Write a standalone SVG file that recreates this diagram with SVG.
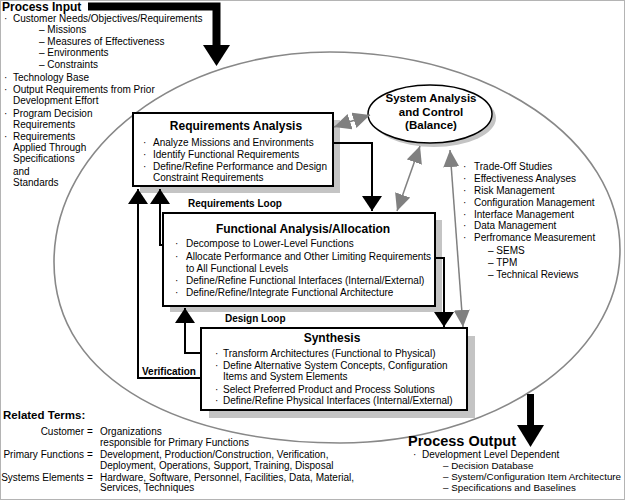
<svg xmlns="http://www.w3.org/2000/svg" width="625" height="500" viewBox="0 0 625 500">
<defs>
<style>
text{font-family:"Liberation Sans",Arial,Helvetica,sans-serif;fill:#000}
.t{font-size:10px}
.s{font-size:9.8px}
.b{font-weight:bold}
.ttl{font-size:12px;font-weight:bold;text-anchor:middle}
.lbl{font-size:10px;font-weight:bold}
.sac{font-size:11.5px;font-weight:bold;text-anchor:middle}
.box{fill:#fff;stroke:#000;stroke-width:2}
.shd{fill:#c4c4c4;stroke:none}
.blk{fill:none;stroke:#000;stroke-width:2}
.gry{fill:none;stroke:#808080;stroke-width:1.5}
</style>
<marker id="ah" viewBox="0 0 15 20" refX="15" refY="10" markerWidth="15" markerHeight="20" markerUnits="userSpaceOnUse" orient="auto"><path d="M0,0 L15,10 L0,20 Z" fill="#000"/></marker>
<marker id="ag" viewBox="0 0 17 16" refX="17" refY="8" markerWidth="17" markerHeight="16" markerUnits="userSpaceOnUse" orient="auto-start-reverse"><path d="M0,0 L17,8 L0,16 Z" fill="#808080"/></marker>
</defs>
<rect x="0.5" y="0.5" width="624" height="499" fill="#fff" stroke="#b4b4b4"/>
<path id="boundary" d="M54,262 C54,145 180,52 330,52 C490,52 620,140 620,250 C620,360 490,443 340,443 C190,443 54,385 54,262 Z" fill="none" stroke="#888" stroke-width="1.6"/>

<g id="process-input">
<text class="b" x="2" y="10.5" style="font-size:12px">Process Input</text>
<text class="t"><tspan x="4" y="22">·</tspan><tspan x="13" y="22">Customer Needs/Objectives/Requirements</tspan></text>
<text class="t" x="39" y="33">– Missions</text>
<text class="t" x="39" y="45">– Measures of Effectiveness</text>
<text class="t" x="39" y="56">– Environments</text>
<text class="t" x="39" y="68">– Constraints</text>
<text class="t"><tspan x="4" y="81">·</tspan><tspan x="13" y="81">Technology Base</tspan></text>
<text class="t"><tspan x="4" y="93">·</tspan><tspan x="13" y="93">Output Requirements from Prior</tspan></text>
<text class="t" x="13" y="104">Development Effort</text>
<text class="t"><tspan x="4" y="117">·</tspan><tspan x="13" y="117">Program Decision</tspan></text>
<text class="t" x="13" y="128">Requirements</text>
<text class="t"><tspan x="4" y="140">·</tspan><tspan x="13" y="140">Requirements</tspan></text>
<text class="t" x="13" y="151">Applied Through</text>
<text class="t" x="13" y="162">Specifications</text>
<text class="t" x="13" y="175">and</text>
<text class="t" x="13" y="186">Standards</text>
<path d="M88,6.5 H216.5 V47" fill="none" stroke="#000" stroke-width="8"/>
<polygon points="203,45 230,45 216.5,66" fill="#000"/>
</g>

<g id="requirements-analysis">
<rect class="shd" x="140" y="120" width="200" height="73"/>
<rect class="box" x="133" y="113" width="200" height="73"/>
<text class="ttl" x="236" y="130">Requirements Analysis</text>
<text class="t"><tspan x="143" y="146">·</tspan><tspan x="153" y="146">Analyze Missions and Environments</tspan></text>
<text class="t"><tspan x="143" y="158">·</tspan><tspan x="153" y="158">Identify Functional Requirements</tspan></text>
<text class="t"><tspan x="143" y="170">·</tspan><tspan x="153" y="170">Define/Refine Performance and Design</tspan></text>
<text class="t" x="153" y="181">Constraint Requirements</text>
</g>

<g id="functional-analysis">
<rect class="shd" x="170" y="220" width="272" height="92"/>
<rect class="box" x="163" y="213" width="272" height="93"/>
<text class="ttl" x="303" y="233">Functional Analysis/Allocation</text>
<text class="t"><tspan x="175" y="247">·</tspan><tspan x="186" y="247">Decompose to Lower-Level Functions</tspan></text>
<text class="t"><tspan x="175" y="260">·</tspan><tspan x="186" y="260">Allocate Performance and Other Limiting Requirements</tspan></text>
<text class="t" x="186" y="272">to All Functional Levels</text>
<text class="t"><tspan x="175" y="284">·</tspan><tspan x="186" y="284">Define/Refine Functional Interfaces (Internal/External)</tspan></text>
<text class="t"><tspan x="175" y="296">·</tspan><tspan x="186" y="296">Define/Refine/Integrate Functional Architecture</tspan></text>
</g>

<g id="synthesis">
<rect class="shd" x="209" y="336" width="266" height="82"/>
<rect class="box" x="201" y="328" width="266" height="82"/>
<text class="ttl" x="332" y="342">Synthesis</text>
<text class="t"><tspan x="215" y="357">·</tspan><tspan x="223" y="357">Transform Architectures (Functional to Physical)</tspan></text>
<text class="t"><tspan x="215" y="369">·</tspan><tspan x="223" y="369">Define Alternative System Concepts, Configuration</tspan></text>
<text class="t" x="223" y="380">Items and System Elements</text>
<text class="t"><tspan x="215" y="393">·</tspan><tspan x="223" y="393">Select Preferred Product and Process Solutions</tspan></text>
<text class="t"><tspan x="215" y="404">·</tspan><tspan x="223" y="404">Define/Refine Physical Interfaces (Internal/External)</tspan></text>
</g>

<g id="system-analysis-control">
<ellipse cx="434" cy="118" rx="62" ry="29" fill="#c4c4c4"/>
<ellipse cx="430" cy="114" rx="62" ry="29" fill="#fff" stroke="#000" stroke-width="1.5"/>
<text class="sac" x="431" y="102">System Analysis</text>
<text class="sac" x="431" y="116">and Control</text>
<text class="sac" x="431" y="129">(Balance)</text>
</g>

<g id="analysis-tools">
<text class="t"><tspan x="463" y="170">·</tspan><tspan x="474" y="170">Trade-Off Studies</tspan></text>
<text class="t"><tspan x="463" y="182">·</tspan><tspan x="474" y="182">Effectiveness Analyses</tspan></text>
<text class="t"><tspan x="463" y="194">·</tspan><tspan x="474" y="194">Risk Management</tspan></text>
<text class="t"><tspan x="463" y="206">·</tspan><tspan x="474" y="206">Configuration Management</tspan></text>
<text class="t"><tspan x="463" y="218">·</tspan><tspan x="474" y="218">Interface Management</tspan></text>
<text class="t"><tspan x="463" y="229">·</tspan><tspan x="474" y="229">Data Management</tspan></text>
<text class="t"><tspan x="463" y="241">·</tspan><tspan x="474" y="241">Perfromance Measurement</tspan></text>
<text class="t" x="488" y="254">– SEMS</text>
<text class="t" x="488" y="266">– TPM</text>
<text class="t" x="488" y="278">– Technical Reviews</text>
</g>

<g id="connectors">
<path class="blk" d="M333,143 H372 V211" marker-end="url(#ah)"/>
<path class="blk" d="M435,258 H444 V327" marker-end="url(#ah)"/>
<path class="blk" d="M163,245 H160 V189" marker-end="url(#ah)"/>
<path class="blk" d="M201,378 H138 V189" marker-end="url(#ah)"/>
<path class="blk" d="M201,353 H185 V308" marker-end="url(#ah)"/>
<path class="gry" d="M334,127 L370,115" marker-start="url(#ag)" marker-end="url(#ag)"/>
<path class="gry" d="M420,146 L397,211" marker-start="url(#ag)" marker-end="url(#ag)"/>
<path class="gry" d="M450,150 L463,327" marker-start="url(#ag)" marker-end="url(#ag)"/>
</g>

<g id="loop-labels">
<text class="lbl" x="188" y="207">Requirements Loop</text>
<text class="lbl" x="225" y="322">Design Loop</text>
<text class="lbl" x="142" y="375">Verification</text>
</g>

<g id="process-output">
<line x1="530.5" y1="394" x2="530.5" y2="427" stroke="#000" stroke-width="7"/>
<polygon points="517,425 544,425 530.5,447" fill="#000"/>
<text class="b" x="408" y="446" style="font-size:14.5px">Process Output</text>
<text class="t"><tspan x="413" y="458">·</tspan><tspan x="422" y="458">Development Level Dependent</tspan></text>
<text class="s" x="443" y="469">– Decision Database</text>
<text class="s" x="443" y="480">– System/Configuration Item Architecture</text>
<text class="s" x="443" y="491">– Specifications and Baselines</text>
</g>

<g id="related-terms">
<text class="b" x="3" y="419" style="font-size:11.5px">Related Terms:</text>
<text class="t" x="84" y="435" text-anchor="end">Customer</text>
<text class="t" x="87" y="435">=</text>
<text class="t" x="100" y="435">Organizations</text>
<text class="t" x="100" y="446">responsible for Primary Functions</text>
<text class="t" x="84" y="458" text-anchor="end">Primary Functions</text>
<text class="t" x="87" y="458">=</text>
<text class="t" x="100" y="458">Development, Production/Construction, Verification,</text>
<text class="t" x="100" y="469">Deployment, Operations, Support, Training, Disposal</text>
<text class="t" x="84" y="481" text-anchor="end">Systems Elements</text>
<text class="t" x="87" y="481">=</text>
<text class="t" x="100" y="481">Hardware, Software, Personnel, Facilities, Data, Material,</text>
<text class="t" x="100" y="491">Services, Techniques</text>
</g>
</svg>
